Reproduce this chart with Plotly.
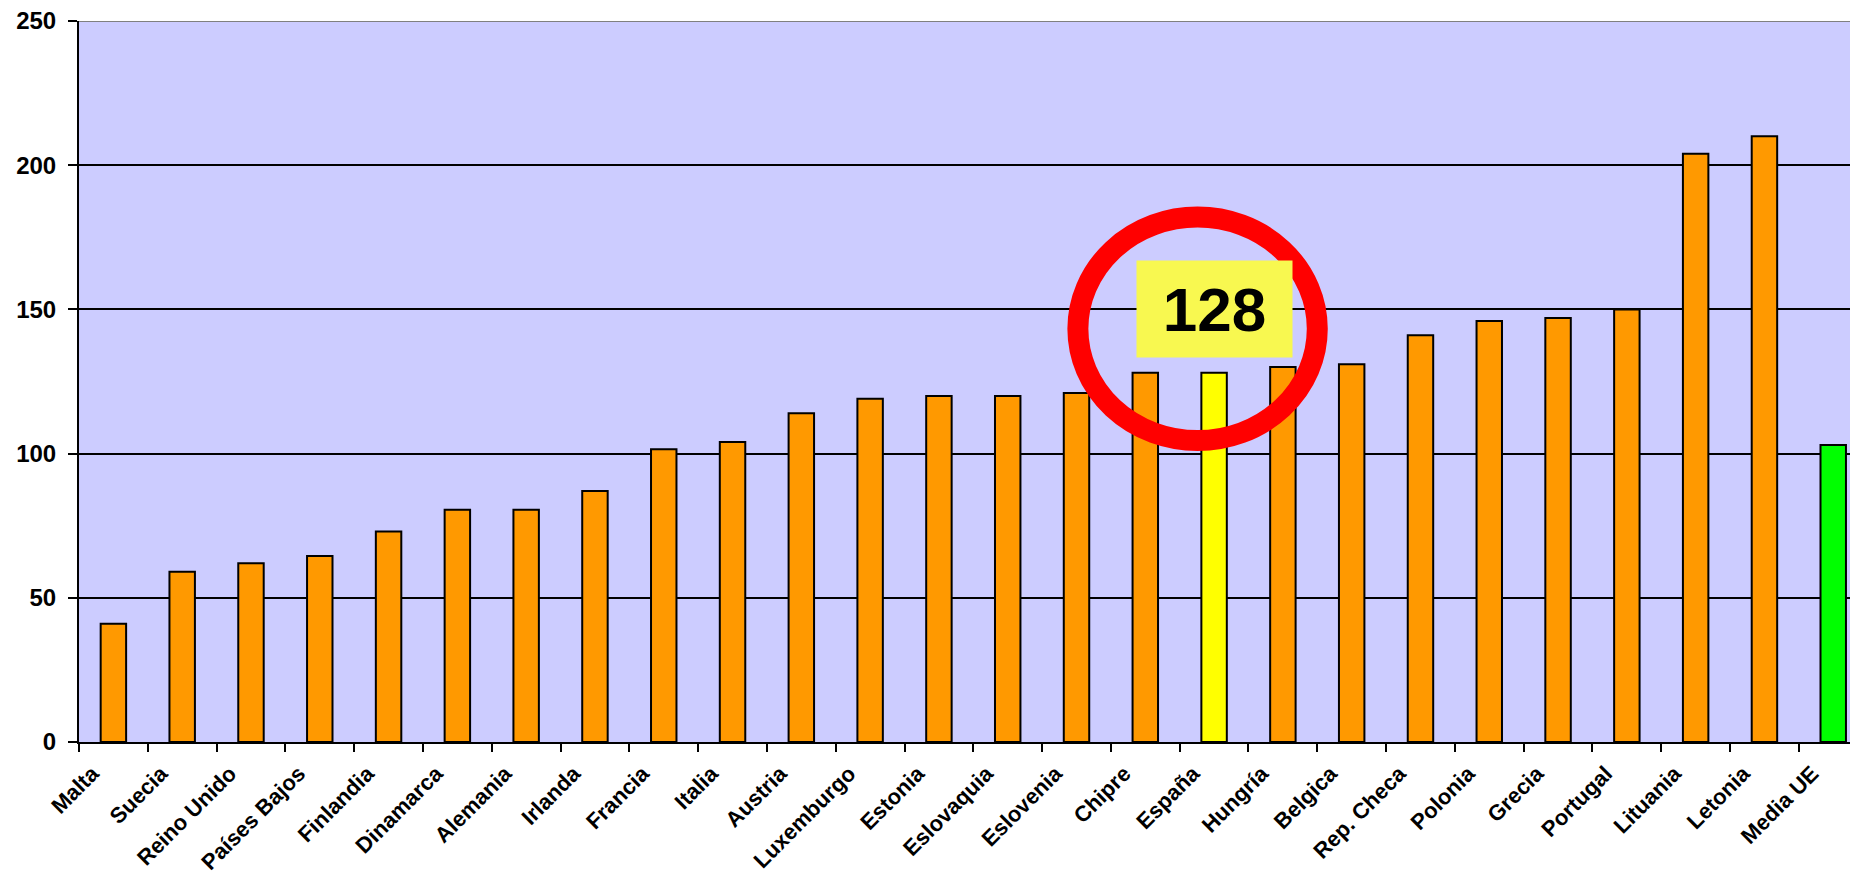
import plotly.graph_objects as go

categories = ["Malta", "Suecia", "Reino Unido", "Países Bajos", "Finlandia", "Dinamarca",
              "Alemania", "Irlanda", "Francia", "Italia", "Austria", "Luxemburgo", "Estonia",
              "Eslovaquia", "Eslovenia", "Chipre", "España", "Hungría", "Belgica", "Rep. Checa",
              "Polonia", "Grecia", "Portugal", "Lituania", "Letonia", "Media UE"]
values = [41, 59, 62, 64.5, 73, 80.5, 80.5, 87, 101.5, 104, 114, 119, 120, 120, 121, 128,
          128, 130, 131, 141, 146, 147, 150, 204, 210, 103]
highlight = {"España": "#FFFF00", "Media UE": "#00FF00"}
base_color = "#FF9900"
colors = [highlight.get(c, base_color) for c in categories]

y_ticks = [0, 50, 100, 150, 200, 250]
callout_text = "128"
callout_category = "España"
callout_value = 150

fig = go.Figure()
fig.add_trace(go.Bar(
    x=categories, y=values,
    marker=dict(color=colors, line=dict(color="black", width=2)),
    width=0.37,
    hoverinfo="x+y",
))

# red ellipse around the España bar
fig.add_shape(type="circle", xref="x", yref="y",
              x0=14.02, x1=17.5, y0=104.5, y1=182.0,
              line=dict(color="#FF0000", width=21), layer="above")
# gray top border of plot area
fig.add_shape(type="line", xref="paper", yref="y", x0=0, x1=1, y0=250, y1=250,
              line=dict(color="#808080", width=2), layer="above")

fig.add_annotation(x=callout_category, y=callout_value, xref="x", yref="y",
                   text=f"<b>{callout_text}</b>", showarrow=False,
                   font=dict(family="Liberation Sans, Arial", size=62, color="black"),
                   bgcolor="#F8F850", width=155, height=96, borderpad=0)

# the page body adds an 8px offset, so the figure is sized to fill the rest of the window
fig.update_layout(
    width=1850, height=881,
    margin=dict(l=71, r=0, t=13, b=147),
    paper_bgcolor="white", plot_bgcolor="#CCCCFF",
    showlegend=False,
    font=dict(family="Liberation Sans, Arial", color="black"),
)
fig.update_xaxes(
    type="category", range=[-0.5, 25.36], automargin=False,
    tickson="boundaries", ticks="outside", ticklen=8, tickwidth=2, tickcolor="black",
    tickangle=-45, ticklabelshift=-21, ticklabelstandoff=8,
    tickfont=dict(size=22, weight="bold", family="Liberation Sans, Arial"),
    showline=True, linecolor="black", linewidth=2,
    showgrid=False,
)
fig.update_yaxes(
    range=[0, 250], tickvals=y_ticks, automargin=False,
    ticks="outside", ticklen=9, tickwidth=2, tickcolor="black",
    ticklabelstandoff=7, ticklabeloverflow="allow",
    tickfont=dict(size=24, weight="bold", family="Liberation Sans, Arial"),
    showline=True, linecolor="black", linewidth=2,
    showgrid=True, gridcolor="black", gridwidth=2, zeroline=False,
)

fig.write_html("out.html")
